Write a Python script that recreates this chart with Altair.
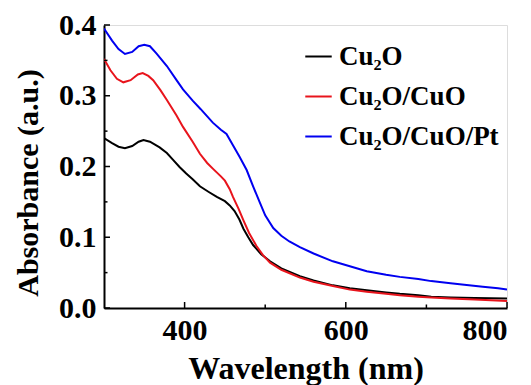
import altair as alt
import pandas as pd

# ---- data ----
series_names = ["Cu₂O", "Cu₂O/CuO", "Cu₂O/CuO/Pt"]
series_colors = ["#000000", "#e8141c", "#0000f0"]

wl_cu2o = [300, 310, 318, 326, 335, 343, 349, 357, 369, 378, 386, 394, 402, 410, 419, 430, 440, 450, 456, 462,
           468, 473, 479, 485, 495, 506, 520, 543, 560, 584, 605, 626, 650, 667, 690, 706, 730, 760, 800]
abs_cu2o = [0.240, 0.233, 0.228, 0.226, 0.229, 0.235, 0.2375, 0.235, 0.227, 0.219, 0.209, 0.199, 0.190, 0.182,
            0.172, 0.164, 0.157, 0.151, 0.145, 0.137, 0.125, 0.112, 0.100, 0.089, 0.076, 0.066, 0.056, 0.045,
            0.039, 0.032, 0.028, 0.025, 0.022, 0.020, 0.018, 0.016, 0.015, 0.014, 0.0135]

wl_cuo = [300, 308, 316, 324, 333, 342, 348, 355, 361, 370, 378, 390, 398, 410, 419, 428, 435, 445, 450, 456,
          460, 467, 473, 480, 489, 497, 506, 520, 543, 560, 584, 605, 626, 650, 667, 690, 706, 730, 760, 800]
abs_cuo = [0.352, 0.336, 0.324, 0.319, 0.322, 0.330, 0.332, 0.328, 0.322, 0.308, 0.294, 0.272, 0.256, 0.235,
           0.218, 0.205, 0.197, 0.186, 0.180, 0.168, 0.157, 0.140, 0.124, 0.106, 0.088, 0.075, 0.064, 0.054,
           0.043, 0.037, 0.031, 0.026, 0.023, 0.020, 0.018, 0.016, 0.015, 0.0135, 0.012, 0.010]

wl_pt = [300, 310, 318, 326, 335, 343, 350, 357, 365, 378, 390, 398, 410, 420, 435, 445, 452, 460, 468, 477,
         485, 493, 500, 510, 520, 530, 543, 560, 584, 605, 626, 650, 667, 690, 706, 730, 747, 770, 789, 800]
abs_pt = [0.395, 0.378, 0.366, 0.359, 0.362, 0.370, 0.372, 0.370, 0.360, 0.342, 0.322, 0.309, 0.293, 0.281,
          0.262, 0.252, 0.246, 0.230, 0.214, 0.195, 0.172, 0.150, 0.131, 0.113, 0.102, 0.094, 0.086, 0.077,
          0.066, 0.059, 0.052, 0.047, 0.044, 0.041, 0.038, 0.035, 0.033, 0.030, 0.028, 0.026]

x_major = [400, 600, 800]
x_minor = [500, 700]
y_major = [0.0, 0.1, 0.2, 0.3, 0.4]
y_minor = [0.05, 0.15, 0.25, 0.35]

# ---- tables ----
frames = []
for name, wl, ab in [(series_names[0], wl_cu2o, abs_cu2o),
                     (series_names[1], wl_cuo, abs_cuo),
                     (series_names[2], wl_pt, abs_pt)]:
    frames.append(pd.DataFrame({"wl": wl, "ab": ab, "sample": name}))
df = pd.concat(frames, ignore_index=True)

W, H = 403, 283
FONT = "Liberation Serif"

xs = alt.Scale(domain=[300, 800], nice=False, zero=False)
ys = alt.Scale(domain=[0, 0.4], nice=False, zero=False)

x_axis = alt.Axis(
    title="Wavelength (nm)", values=x_major, format="d", ticks=False, grid=False,
    labelFont=FONT, labelFontWeight="bold", labelFontSize=30, labelPadding=7, labelColor="black",
    titleFont=FONT, titleFontWeight="bold", titleFontSize=32, titlePadding=8, titleColor="black",
    domainColor="black", domainWidth=2)
y_axis = alt.Axis(
    title="Absorbance (a.u.)", values=y_major, format=".1f", ticks=False, grid=False,
    labelFont=FONT, labelFontWeight="bold", labelFontSize=30, labelPadding=8, labelColor="black",
    titleFont=FONT, titleFontWeight="bold", titleFontSize=30, titleColor="black",
    titleX=-76, titleY=H / 2 + 16, titleAlign="center", titleBaseline="middle", titleAngle=-90,
    domainColor="black", domainWidth=2)

lines = alt.Chart(df).mark_line(strokeWidth=2, clip=True).encode(
    x=alt.X("wl:Q", scale=xs, axis=x_axis, title="Wavelength (nm)"),
    y=alt.Y("ab:Q", scale=ys, axis=y_axis, title="Absorbance (a.u.)"),
    color=alt.Color("sample:N", scale=alt.Scale(domain=series_names, range=series_colors),
                    legend=alt.Legend(title=None, orient="none", legendX=200, legendY=17,
                                      symbolType="stroke", symbolSize=700, symbolStrokeWidth=2,
                                      labelFont=FONT, labelFontWeight="bold", labelFontSize=27,
                                      labelColor="black", labelOffset=6, rowPadding=12)),
    order=alt.Order("wl:Q"),
    detail="sample:N",
)

xmaj = alt.Chart(pd.DataFrame({"v": x_major})).mark_rule(color="black", strokeWidth=1.5).encode(
    x=alt.X("v:Q", scale=xs, axis=x_axis, title="Wavelength (nm)"), y=alt.value(H), y2=alt.value(H - 6))
xmin = alt.Chart(pd.DataFrame({"v": x_minor})).mark_rule(color="black", strokeWidth=1.5).encode(
    x=alt.X("v:Q", scale=xs, axis=x_axis, title="Wavelength (nm)"), y=alt.value(H), y2=alt.value(H - 3.5))
ymaj = alt.Chart(pd.DataFrame({"v": y_major})).mark_rule(color="black", strokeWidth=1.5).encode(
    y=alt.Y("v:Q", scale=ys, axis=y_axis, title="Absorbance (a.u.)"), x=alt.value(0), x2=alt.value(6))
ymin = alt.Chart(pd.DataFrame({"v": y_minor})).mark_rule(color="black", strokeWidth=1.5).encode(
    y=alt.Y("v:Q", scale=ys, axis=y_axis, title="Absorbance (a.u.)"), x=alt.value(0), x2=alt.value(3.5))

chart = alt.layer(lines, xmaj, xmin, ymaj, ymin).properties(
    width=W, height=H,
    autosize=alt.AutoSizeParams(type="none"),
    padding={"left": 96, "top": 17, "right": 16, "bottom": 77},
).configure_view(stroke=None).configure(background="white")

chart.save("out.html", embed_options={"renderer": "svg", "actions": False})
